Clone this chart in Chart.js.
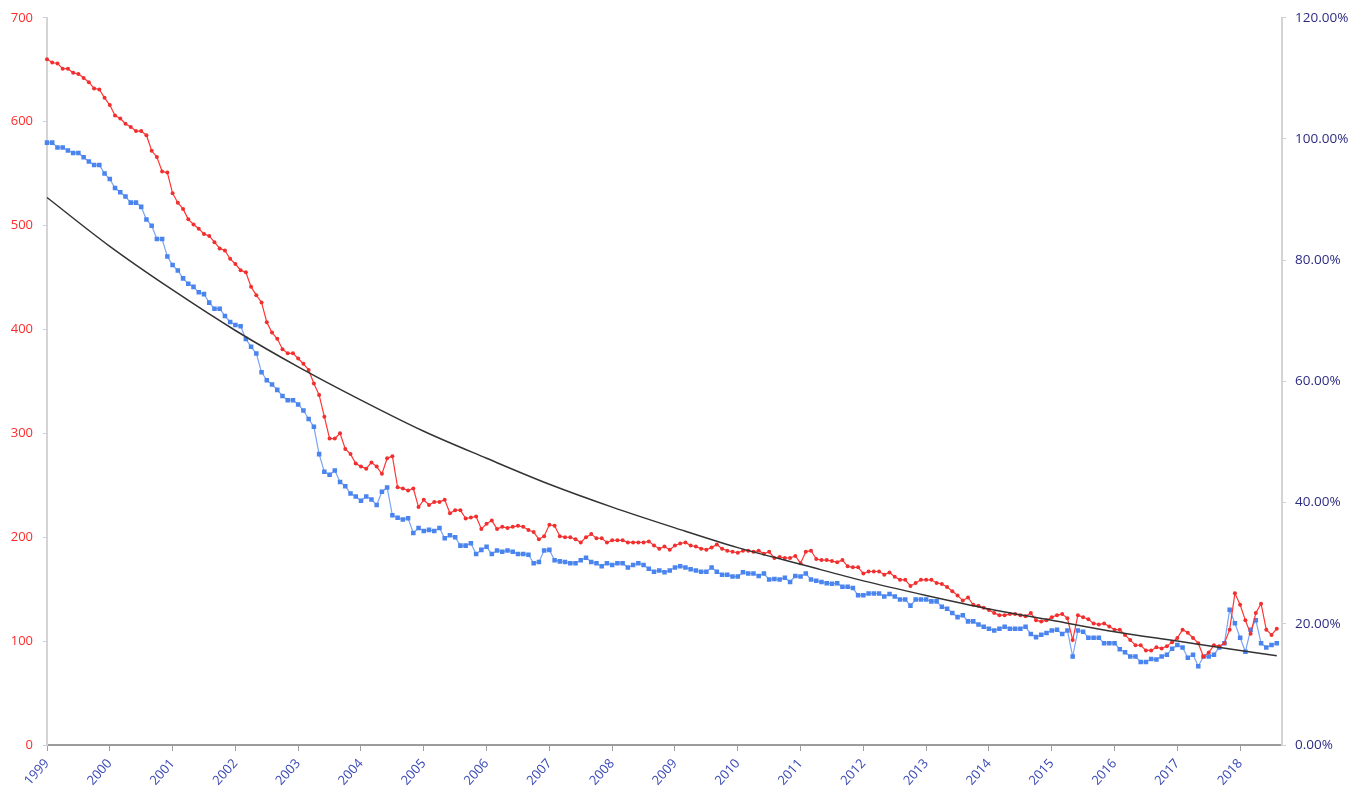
<!DOCTYPE html>
<html>
<head>
<meta charset="utf-8">
<script src="https://cdn.jsdelivr.net/npm/chart.js@4.4.0/dist/chart.umd.min.js"></script>
<style>
  html, body { margin: 0; padding: 0; background: #fff; }
  #wrap { width: 1363px; height: 796px; }
</style>
</head>
<body>
<div id="wrap"><canvas id="c" width="1363" height="796"></canvas></div>
<script>
// monthly series, Jan 1999 .. Aug 2018
var YEARS = ['1999','2000','2001','2002','2003','2004','2005','2006','2007','2008',
             '2009','2010','2011','2012','2013','2014','2015','2016','2017','2018'];

// red series, left axis (count)
var RED = [
  660,657,656,651,651,647,646,642,638,632,631,623,
  616,606,603,598,595,591,591,587,572,566,552,551,
  531,522,516,506,501,497,492,490,484,478,476,468,
  463,457,455,441,433,426,407,397,391,381,377,377,
  372,367,361,348,337,316,295,295,300,285,280,271,
  268,266,272,268,261,276,278,248,247,245,247,229,
  236,231,234,234,236,223,226,226,218,219,220,208,
  213,216,208,210,209,210,211,210,207,205,198,201,
  212,211,201,200,200,198,195,200,203,199,199,195,
  197,197,197,195,195,195,195,196,192,189,191,188,
  192,194,195,192,191,189,188,190,193,189,187,186,
  185,187,187,186,187,184,186,180,181,180,180,182,
  175,186,187,179,178,178,177,176,178,172,171,171,
  165,167,167,167,164,166,162,159,159,153,156,159,
  159,159,156,155,152,148,144,139,142,135,134,132,
  130,127,125,125,126,126,125,124,127,120,119,120,
  123,125,126,122,101,125,123,121,117,116,117,114,
  111,111,106,101,96,96,91,91,94,93,95,99,
  103,111,108,103,98,85,89,96,95,98,111,146,
  135,120,107,127,136,111,106,112
];

// blue series, right axis (percent)
var BLUE = [
  99.4,99.4,98.6,98.6,98.1,97.7,97.7,97.0,96.3,95.7,95.7,94.3,
  93.4,91.9,91.2,90.5,89.5,89.5,88.8,86.7,85.7,83.5,83.5,80.6,
  79.2,78.3,77.0,76.1,75.6,74.7,74.4,73.0,72.0,72.0,70.8,69.8,
  69.3,69.1,67.0,65.7,64.6,61.5,60.2,59.5,58.6,57.6,56.9,56.9,
  56.2,55.2,53.8,52.5,48.0,45.1,44.6,45.3,43.4,42.7,41.5,41.0,
  40.3,41.0,40.5,39.6,41.8,42.5,37.9,37.5,37.2,37.4,35.0,35.8,
  35.3,35.5,35.3,35.8,34.1,34.6,34.3,32.9,32.9,33.3,31.5,32.2,
  32.7,31.5,32.1,31.9,32.1,31.9,31.5,31.5,31.4,30.0,30.2,32.1,
  32.2,30.5,30.3,30.2,30.0,30.0,30.5,30.9,30.2,30.0,29.5,30.0,
  29.7,30.0,30.0,29.3,29.7,30.0,29.7,29.1,28.6,28.8,28.5,28.8,
  29.3,29.5,29.3,29.0,28.8,28.6,28.6,29.3,28.6,28.1,28.1,27.8,
  27.8,28.5,28.3,28.3,27.9,28.3,27.3,27.4,27.3,27.6,26.9,27.9,
  27.8,28.3,27.3,27.1,26.9,26.7,26.6,26.7,26.1,26.1,25.9,24.7,
  24.7,25.0,25.0,25.0,24.5,24.9,24.5,24.0,24.0,23.0,24.0,24.0,
  24.0,23.7,23.7,22.8,22.5,21.8,21.1,21.4,20.4,20.4,19.9,19.5,
  19.2,18.9,19.2,19.5,19.2,19.2,19.2,19.5,18.3,17.8,18.2,18.5,
  18.9,19.0,18.3,18.9,14.6,18.9,18.7,17.7,17.7,17.7,16.8,16.8,
  16.8,15.8,15.3,14.6,14.6,13.7,13.7,14.2,14.1,14.6,14.9,15.9,
  16.5,16.1,14.4,14.9,13.0,14.6,14.6,14.9,16.1,16.8,22.3,20.1,
  17.7,15.4,19.0,20.6,16.8,16.1,16.5,16.8
];

// black trend curve, read at each January (left axis units) + end of data
var TREND_JAN = [527,480,438,399,364,332,302,276,251,229,209,190,174,158,144,131,120,109,100,91];
var TREND_END = 86;

var labels = [];
YEARS.forEach(function (y) {
  for (var m = 1; m <= 12; m++) labels.push(y + '-' + (m < 10 ? '0' : '') + m);
});
labels = labels.slice(0, 237); // axis runs to Sep 2018

var trend = labels.map(function (_, i) { return i % 12 === 0 ? TREND_JAN[i / 12] : null; });
trend[RED.length - 1] = TREND_END;

var FONT = 'Open Sans, Liberation Sans, sans-serif';

new Chart(document.getElementById('c'), {
  type: 'line',
  data: {
    labels: labels,
    datasets: [
      { label: 'Trend', data: trend, yAxisID: 'y', borderColor: '#333', borderWidth: 1.5,
        pointRadius: 0, spanGaps: true, cubicInterpolationMode: 'monotone' },
      { label: 'Count', data: RED, yAxisID: 'y', borderColor: '#ff3434', backgroundColor: '#f03030',
        borderWidth: 1.2, pointRadius: 2, pointBorderWidth: 0 },
      { label: 'Share', data: BLUE, yAxisID: 'y1', borderColor: '#78a4f5', backgroundColor: '#4a84ee',
        borderWidth: 1.2, pointStyle: 'rect', pointRadius: 3.2, pointBorderWidth: 0 }
    ]
  },
  options: {
    responsive: false,
    animation: false,
    devicePixelRatio: 1,
    layout: { padding: { top: 9, left: 0, right: 0, bottom: 0 } },
    plugins: { legend: { display: false }, tooltip: { enabled: false } },
    scales: {
      x: {
        type: 'category',
        offset: false,
        grid: { drawOnChartArea: false, drawTicks: true, tickLength: 6, color: '#a0a0a0' },
        border: { color: '#9c9c9c', width: 2 },
        ticks: {
          autoSkip: false, minRotation: 48, maxRotation: 48, padding: 5,
          color: '#3848b4', font: { family: FONT, size: 13 },
          callback: function (v, i) { return i % 12 === 0 ? labels[i].slice(0, 4) : null; }
        },
        afterFit: function (s) { s.height = 51; }
      },
      y: {
        position: 'left', min: 0, max: 700,
        grid: { drawOnChartArea: false, tickLength: 4, color: '#cfcfcf' },
        border: { color: '#d4d4d4', width: 2 },
        ticks: { stepSize: 100, padding: 10, color: '#ff2b2b', font: { family: FONT, size: 13 } },
        afterFit: function (s) { s.width = 47; }
      },
      y1: {
        position: 'right', min: 0, max: 120,
        grid: { drawOnChartArea: false, tickLength: 4, color: '#cfcfcf' },
        border: { color: '#d4d4d4', width: 2 },
        ticks: {
          stepSize: 20, padding: 9, color: '#2c2c84', font: { family: FONT, size: 13.5 },
          callback: function (v) { return v.toFixed(2) + '%'; }
        },
        afterFit: function (s) { s.width = 81; }
      }
    }
  }
});
</script>
</body>
</html>
